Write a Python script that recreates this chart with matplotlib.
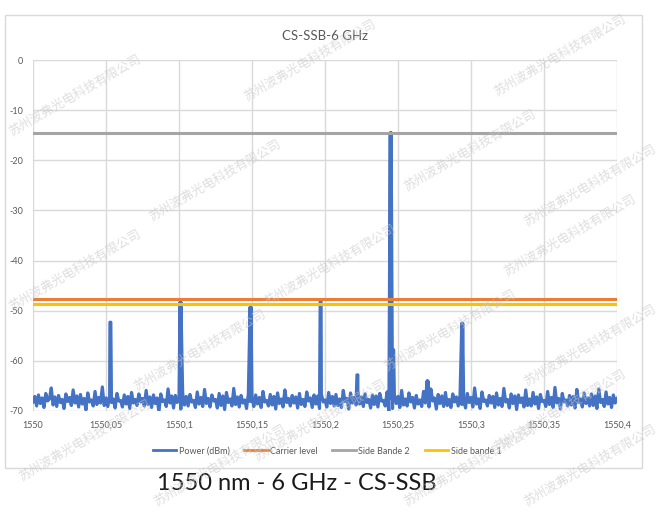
import matplotlib.pyplot as plt
import matplotlib.patches as patches
import numpy as np

plt.rcParams['font.family'] = ['Lato', 'DejaVu Sans']
plt.rcParams['axes.unicode_minus'] = False

# noise floor of the spectrum (step 0.00125 nm from 1550)
noise_dbm = [
    -68.2, -67.1, -69.0, -66.8, -68.5, -67.4, -69.3, -66.5, -68.0, -67.6, -65.4, -68.8, -67.2, -69.1, -66.9, -68.3, -67.7, -69.5, -66.6, -68.1,
    -67.3, -68.9, -65.8, -68.4, -67.0, -69.2, -66.7, -68.6, -67.5, -69.8, -66.4, -68.2, -67.8, -69.0, -66.1, -68.7, -67.3, -68.4, -65.2, -68.9,
    -67.4, -69.1, -66.9, -68.3, -67.6, -69.4, -66.5, -68.0, -67.9, -69.2, -66.8, -68.6, -67.1, -69.5, -66.3, -68.4, -67.7, -68.9, -66.6, -68.2,
    -67.5, -69.0, -65.9, -68.7, -67.2, -69.3, -66.8, -68.5, -67.4, -70.2, -66.6, -68.1, -67.8, -69.1, -65.6, -68.4, -67.0, -69.4, -66.9, -68.3,
    -67.6, -69.6, -66.4, -68.8, -67.1, -69.0, -66.7, -68.2, -67.9, -69.3, -66.2, -68.6, -67.3, -69.1, -65.7, -68.5, -67.5, -69.2, -66.8, -68.0,
    -67.7, -69.4, -66.5, -68.9, -67.0, -69.7, -66.3, -68.3, -67.6, -69.0, -65.5, -68.7, -67.2, -69.2, -66.9, -68.4, -67.8, -69.5, -66.6, -68.1,
    -67.4, -69.1, -66.8, -68.6, -67.3, -69.3, -66.1, -68.2, -67.9, -69.0, -66.7, -68.8, -67.1, -69.6, -66.4, -68.5, -67.6, -69.2, -65.8, -68.3,
    -67.5, -69.0, -66.9, -68.4, -67.2, -69.4, -66.5, -68.7, -67.7, -69.1, -66.2, -68.0, -67.4, -69.3, -66.8, -68.6, -67.0, -69.5, -66.6, -68.2,
    -67.8, -69.2, -66.3, -68.5, -67.1, -69.0, -66.7, -68.9, -67.6, -69.3, -65.9, -68.1, -67.5, -69.6, -66.4, -68.4, -67.3, -68.8, -66.0, -68.6,
    -67.2, -69.1, -66.6, -68.3, -67.7, -69.4, -66.8, -68.7, -67.0, -69.2, -66.5, -68.0, -67.9, -69.0, -66.2, -70.3, -67.4, -69.5, -66.7, -68.5,
    -67.1, -69.3, -65.9, -68.8, -67.6, -69.0, -66.4, -68.2, -67.3, -69.4, -66.9, -68.6, -67.8, -69.1, -66.1, -68.4, -67.5, -69.2, -65.6, -68.0,
    -67.4, -69.6, -66.7, -68.5, -67.0, -69.1, -66.3, -68.9, -67.7, -69.3, -66.6, -68.2, -67.2, -69.0, -66.8, -68.7, -67.9, -69.4, -66.5, -68.3,
    -67.3, -69.2, -65.4, -68.6, -67.6, -69.5, -66.2, -68.1, -67.8, -69.0, -66.9, -68.4, -67.1, -69.3, -66.4, -68.8, -67.5, -69.1, -65.5, -68.2,
    -67.7, -69.4, -66.6, -68.5, -67.0, -69.7, -66.8, -68.3, -67.4, -69.2, -65.8, -68.9, -67.6, -69.0, -66.3, -68.6, -67.2, -69.5, -66.7, -68.1,
    -67.9, -69.1, -66.1, -68.7, -67.3, -69.3, -65.3, -68.4, -67.5, -69.6, -66.5, -68.2, -67.8, -69.0, -66.9, -68.8, -67.1, -69.4, -65.7, -68.3,
    -67.6, -69.2, -66.4, -68.5, -67.4, -69.0, -66.6, -68.9, -67.0, -69.5, -65.6, -68.3, -67.7, -69.1, -66.2, -68.6, -67.3, -69.3, -66.8, -68.4,
    -67.5,
]
noise_wl = np.linspace(1550.0, 1550.4, len(noise_dbm))

# spectral lines (nm, dBm)
peak_wl = [1550.053, 1550.101, 1550.149, 1550.197, 1550.2222, 1550.245, 1550.2467, 1550.2702, 1550.294]
peak_dbm = [-52.3, -48.3, -49.3, -48.0, -62.8, -14.5, -57.8, -64.0, -52.5]

carrier_level = -47.7
side_bande_2 = -14.5
side_bande_1 = -48.7

xticks = [1550, 1550.05, 1550.1, 1550.15, 1550.2, 1550.25, 1550.3, 1550.35, 1550.4]
xticklabels = ['1550', '1550,05', '1550,1', '1550,15', '1550,2', '1550,25', '1550,3', '1550,35', '1550,4']

# merge peaks (flat narrow tops) into the noise trace
half = 0.0003
pw = np.concatenate([[w - half, w + half] for w in peak_wl])
pd = np.repeat(peak_dbm, 2)
wl = np.concatenate([noise_wl, pw])
dbm = np.concatenate([noise_dbm, pd])
order = np.argsort(wl)
wl = wl[order]
dbm = dbm[order]

fig = plt.figure(figsize=(6.71, 5.12), dpi=100)
ax = fig.add_axes([33 / 671, 1 - 411 / 512, 584 / 671, 351 / 512])

grey_txt = '#595959'
ax.plot(wl, dbm, color='#4472C4', lw=2.3, label='Power (dBm)', zorder=3)
ax.plot([1550, 1550.4], [carrier_level] * 2, color='#ED7D31', lw=2.2, label='Carrier level', zorder=4)
ax.plot([1550, 1550.4], [side_bande_2] * 2, color='#A5A5A5', lw=2.2, label='Side Bande 2', zorder=4)
ax.plot([1550, 1550.4], [side_bande_1] * 2, color='#FFC000', lw=2.2, label='Side bande 1', zorder=4)

ax.set_xlim(1550, 1550.4)
ax.set_ylim(-70, 0)
ax.set_xticks(xticks)
ax.set_xticklabels(xticklabels)
ax.set_yticks(range(-70, 1, 10))
ax.tick_params(length=0, labelsize=6.5, labelcolor=grey_txt, pad=7)
ax.grid(True, color='#D9D9D9', lw=1)
for s in ax.spines.values():
    s.set_visible(False)
ax.set_axisbelow(True)

fig.text(325 / 671, 1 - 36 / 512, 'CS-SSB-6 GHz', ha='center', va='center', fontsize=9.5, color=grey_txt)

leg = fig.legend(loc='center', bbox_to_anchor=(327 / 671, 1 - 451 / 512), ncol=4, frameon=False,
                 fontsize=6.5, labelcolor=grey_txt, handlelength=2.6, columnspacing=1.6,
                 handletextpad=0.3)
for h in leg.get_lines():
    h.set_linewidth(2)

# chart frame
fig.patches.append(patches.Rectangle((5 / 671, 1 - 468 / 512), 637 / 671, 453 / 512,
                                     transform=fig.transFigure, fill=False, ec='#D9D9D9', lw=1))

fig.text(297 / 671, 1 - 484 / 512, '1550 nm - 6 GHz - CS-SSB', ha='center', va='center',
         fontsize=17, color='#1a1a1a')

# watermark
wm = '苏州波弗光电科技有限公司'
wm_pos = [(75, 95), (310, 60), (560, 55), (215, 180), (470, 150), (590, 185), (75, 270),
          (330, 265), (570, 235), (200, 350), (450, 330), (590, 345), (85, 440), (320, 420),
          (560, 410), (220, 465), (470, 465), (590, 465)]
for x, y in wm_pos:
    fig.text(x / 671, 1 - y / 512, wm, ha='center', va='center', rotation=30, fontsize=9,
             color='#c8c8c8', alpha=0.6, family=['Noto Sans CJK SC', 'DejaVu Sans'], zorder=10)

fig.savefig('out.png', dpi=100)
